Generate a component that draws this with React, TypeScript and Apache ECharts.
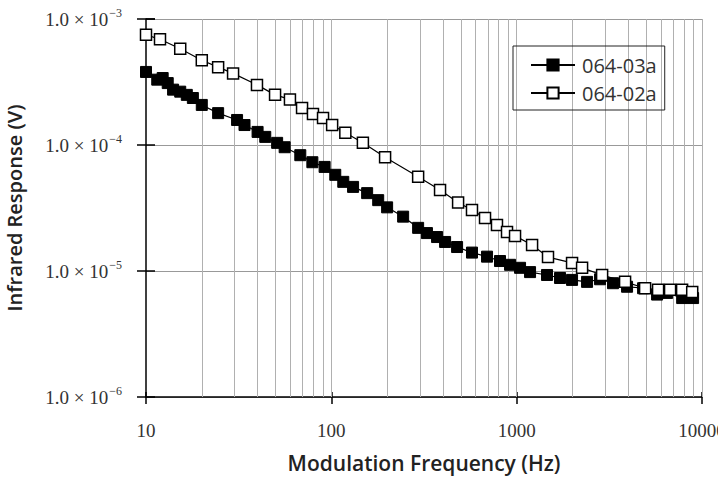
import React, { useEffect, useRef } from "react";
import * as echarts from "echarts";

const freq03a = [10, 11.5, 12.3, 13.1, 14.0, 15.3, 16.6, 17.9, 20, 24.5, 31, 34, 40, 44, 51, 56, 68, 79, 92, 105, 116, 131, 156, 179, 200, 244, 294, 328, 372, 411, 477, 574, 692, 813, 921, 1043, 1181, 1458, 1714, 1990, 2398, 2818, 3311, 3942, 4810, 5724, 6483, 7816, 8954];
const resp03a = [3.8e-4, 3.3e-4, 3.4e-4, 3.1e-4, 2.75e-4, 2.65e-4, 2.5e-4, 2.36e-4, 2.08e-4, 1.79e-4, 1.58e-4, 1.44e-4, 1.27e-4, 1.16e-4, 1.04e-4, 9.6e-5, 8.3e-5, 7.3e-5, 6.7e-5, 5.8e-5, 5.1e-5, 4.65e-5, 4.15e-5, 3.65e-5, 3.2e-5, 2.7e-5, 2.2e-5, 2.0e-5, 1.86e-5, 1.7e-5, 1.55e-5, 1.4e-5, 1.3e-5, 1.2e-5, 1.12e-5, 1.06e-5, 9.8e-6, 9.3e-6, 8.8e-6, 8.5e-6, 8.2e-6, 8.6e-6, 8.0e-6, 7.5e-6, 7.3e-6, 6.5e-6, 6.7e-6, 6.1e-6, 6.1e-6];

const freq02a = [10, 11.9, 15.3, 20, 24.5, 29.5, 39.7, 49.7, 59.8, 69.5, 79.6, 90.2, 101, 119, 148, 195, 294, 386, 483, 574, 675, 783, 887, 980, 1211, 1476, 1990, 2254, 2891, 3846, 4932, 5794, 6725, 7810, 8855];
const resp02a = [7.5e-4, 6.9e-4, 5.8e-4, 4.7e-4, 4.15e-4, 3.7e-4, 3.0e-4, 2.5e-4, 2.3e-4, 1.97e-4, 1.76e-4, 1.64e-4, 1.44e-4, 1.25e-4, 1.04e-4, 8.0e-5, 5.6e-5, 4.4e-5, 3.5e-5, 3.05e-5, 2.63e-5, 2.32e-5, 2.04e-5, 1.9e-5, 1.61e-5, 1.29e-5, 1.16e-5, 1.06e-5, 9.3e-6, 8.2e-6, 7.3e-6, 7.1e-6, 7.1e-6, 7.1e-6, 6.8e-6];

const seriesNames = ["064-03a", "064-02a"];
const xMin = 10;
const xMax = 10000;
const yMin = 1e-6;
const yMax = 1e-3;
const gridFreqs = [20, 30, 40, 50, 60, 70, 80, 90, 100, 200, 300, 400, 500, 600, 700, 800, 900, 1000, 2000, 3000, 4000, 5000, 6000, 7000, 8000, 9000, 10000];

const serif = "'Liberation Serif', 'DejaVu Serif', serif";
const sans = "'Open Sans', 'DejaVu Sans', sans-serif";

export default function App() {
  const ref = useRef<HTMLDivElement>(null);
  useEffect(() => {
    if (!ref.current) return;
    const chart = echarts.init(ref.current, null, { renderer: "svg" });
    const pairs = (xs: number[], ys: number[]) => xs.map((x, i) => [x, ys[i]]);
    chart.setOption({
      animation: false,
      backgroundColor: "#fff",
      grid: { left: 146, right: 16, top: 19, bottom: 81, containLabel: false, outerBoundsMode: "none" },
      legend: {
        orient: "vertical",
        left: 513,
        top: 46,
        data: seriesNames,
        borderColor: "#222",
        borderWidth: 1,
        padding: [9, 8, 7, 17],
        itemGap: 8,
        itemWidth: 44,
        itemHeight: 14,
        textStyle: { fontFamily: sans, fontSize: 20, color: "#333", padding: [0, 0, 0, 2] },
      },
      xAxis: [
        {
          type: "log",
          logBase: 10,
          min: xMin,
          max: xMax,
          position: "bottom",
          axisLine: { lineStyle: { color: "#000", width: 1.5 } },
          axisTick: { length: 7, lineStyle: { color: "#000", width: 1.5 } },
          axisLabel: { margin: 24, fontFamily: serif, fontSize: 19, color: "#333", formatter: (v: number) => String(Math.round(v)) },
          splitLine: { show: false },
          name: "Modulation Frequency (Hz)",
          nameLocation: "middle",
          nameGap: 55,
          nameTextStyle: { fontFamily: sans, fontSize: 21, fontWeight: 600, color: "#222" },
        },
        {
          type: "log",
          logBase: 10,
          min: xMin,
          max: xMax,
          position: "bottom",
          axisLine: { show: false },
          axisTick: { inside: true, length: 5, lineStyle: { color: "#000", width: 1.5 } },
          axisLabel: { show: false },
          splitLine: { show: false },
        },
      ],
      yAxis: [
        {
          type: "log",
          logBase: 10,
          min: yMin,
          max: yMax,
          position: "left",
          axisLine: { lineStyle: { color: "#000", width: 1.5 } },
          axisTick: { length: 9, lineStyle: { color: "#000", width: 1.5 } },
          axisLabel: {
            margin: 24,
            formatter: (v: number) => {
              const e = Math.round(Math.log10(v));
              return "{a|1.0 × 10}{b|−" + String(-e) + "}";
            },
            rich: {
              a: { fontFamily: serif, fontSize: 19, color: "#333" },
              b: { fontFamily: serif, fontSize: 12, color: "#333", padding: [0, 0, 12, 1] },
            },
          },
          splitLine: { show: true, lineStyle: { color: "#999", width: 1 } },
          name: "Infrared Response (V)",
          nameLocation: "middle",
          nameGap: 122,
          nameTextStyle: { fontFamily: sans, fontSize: 20, fontWeight: 600, color: "#222" },
        },
        {
          type: "log",
          logBase: 10,
          min: yMin,
          max: yMax,
          position: "left",
          axisLine: { show: false },
          axisTick: { inside: true, length: 9, lineStyle: { color: "#000", width: 1.5 } },
          axisLabel: { show: false },
          splitLine: { show: false },
        },
      ],
      series: [
        {
          name: "gridlines",
          type: "line",
          xAxisIndex: 1,
          yAxisIndex: 1,
          data: [[xMin, yMin]],
          showSymbol: false,
          lineStyle: { width: 0 },
          silent: true,
          z: 1,
          markLine: {
            silent: true,
            symbol: ["none", "none"],
            label: { show: false },
            lineStyle: { color: "#b0b0b0", width: 1, type: "solid" },
            data: gridFreqs.map((f) => ({ xAxis: f })),
            z: 1,
          },
        },
        {
          name: seriesNames[0],
          type: "line",
          data: pairs(freq03a, resp03a),
          symbol: "rect",
          symbolSize: 11,
          itemStyle: { color: "#000", borderColor: "#000", borderWidth: 1 },
          lineStyle: { color: "#000", width: 1.2 },
          z: 3,
        },
        {
          name: seriesNames[1],
          type: "line",
          data: pairs(freq02a, resp02a),
          symbol: "rect",
          symbolSize: 11,
          itemStyle: { color: "#fff", borderColor: "#000", borderWidth: 1.5 },
          lineStyle: { color: "#000", width: 1.2 },
          z: 4,
        },
      ],
    });
    return () => chart.dispose();
  }, []);
  return <div ref={ref} style={{ position: "fixed", left: 0, top: 0, width: 718, height: 478 }} />;
}
